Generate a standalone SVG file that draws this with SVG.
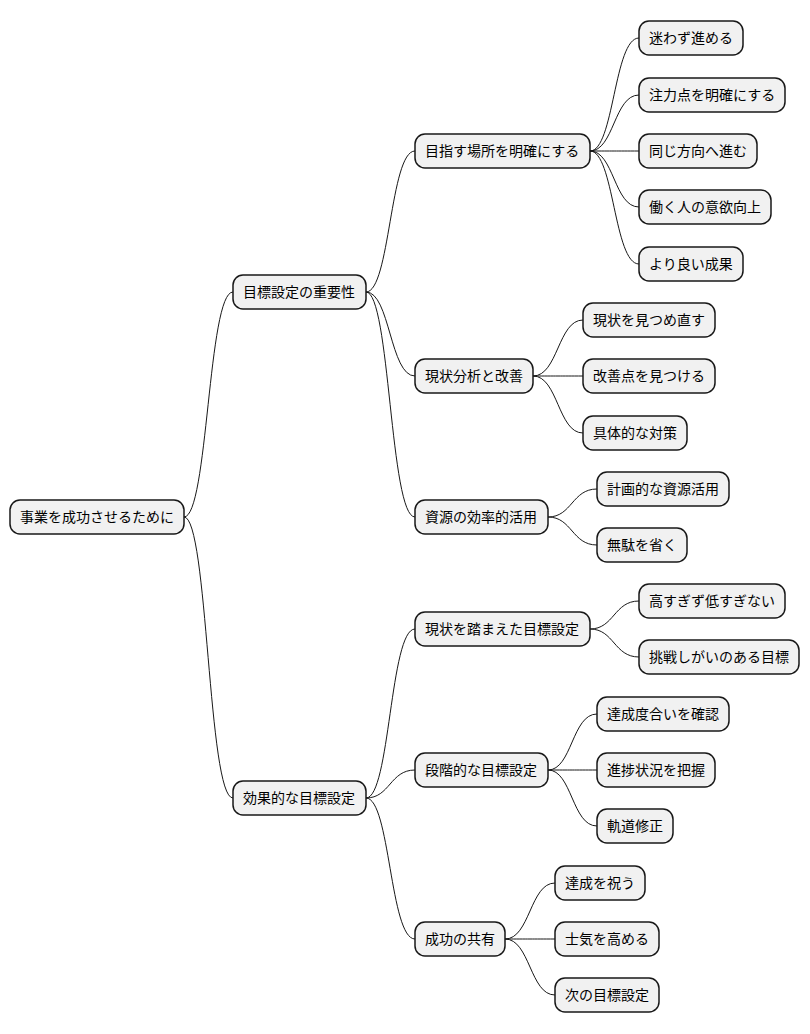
<svg xmlns="http://www.w3.org/2000/svg" width="810" height="1034" viewBox="0 0 810 1034">
<style>
.n rect{fill:#F1F1F1;stroke:#181818;stroke-width:1.5}
.n text{font-family:"Noto Sans CJK JP","Liberation Sans",sans-serif;font-size:14px;fill:#000}
#c path{fill:none;stroke:#181818;stroke-width:1}
</style>
<rect width="810" height="1034" fill="#fff"/>
<g id="c">
<path d="M184,517 C208,517 208,292 233,292"/>
<path d="M184,517 C208,517 208,798 233,798"/>
<path d="M366,292 C390,292 390,151 415,151"/>
<path d="M366,292 C390,292 390,376 415,376"/>
<path d="M366,292 C390,292 390,517 415,517"/>
<path d="M366,798 C390,798 390,629 415,629"/>
<path d="M366,798 C390,798 390,770 415,770"/>
<path d="M366,798 C390,798 390,939 415,939"/>
<path d="M590,151 C614,151 614,38 639,38"/>
<path d="M590,151 C614,151 614,95 639,95"/>
<path d="M590,151 C614,151 614,151 639,151"/>
<path d="M590,151 C614,151 614,207 639,207"/>
<path d="M590,151 C614,151 614,264 639,264"/>
<path d="M533,376 C558,376 558,320 583,320"/>
<path d="M533,376 C558,376 558,376 583,376"/>
<path d="M533,376 C558,376 558,433 583,433"/>
<path d="M548,517 C572,517 572,489 597,489"/>
<path d="M548,517 C572,517 572,545 597,545"/>
<path d="M590,629 C614,629 614,601 639,601"/>
<path d="M590,629 C614,629 614,657 639,657"/>
<path d="M548,770 C572,770 572,714 597,714"/>
<path d="M548,770 C572,770 572,770 597,770"/>
<path d="M548,770 C572,770 572,826 597,826"/>
<path d="M505,939 C530,939 530,883 555,883"/>
<path d="M505,939 C530,939 530,939 555,939"/>
<path d="M505,939 C530,939 530,995 555,995"/>
</g>
<g id="n0" class="n"><rect x="10" y="500" width="174" height="34" rx="10"/><text x="20" y="522">事業を成功させるために</text></g>
<g id="n1" class="n"><rect x="233" y="275" width="133" height="34" rx="10"/><text x="243" y="297">目標設定の重要性</text></g>
<g id="n2" class="n"><rect x="233" y="781" width="133" height="34" rx="10"/><text x="243" y="803">効果的な目標設定</text></g>
<g id="n3" class="n"><rect x="415" y="134" width="175" height="34" rx="10"/><text x="425" y="156">目指す場所を明確にする</text></g>
<g id="n4" class="n"><rect x="415" y="359" width="118" height="34" rx="10"/><text x="425" y="381">現状分析と改善</text></g>
<g id="n5" class="n"><rect x="415" y="500" width="133" height="34" rx="10"/><text x="425" y="522">資源の効率的活用</text></g>
<g id="n6" class="n"><rect x="415" y="612" width="175" height="34" rx="10"/><text x="425" y="634">現状を踏まえた目標設定</text></g>
<g id="n7" class="n"><rect x="415" y="753" width="133" height="34" rx="10"/><text x="425" y="775">段階的な目標設定</text></g>
<g id="n8" class="n"><rect x="415" y="922" width="90" height="34" rx="10"/><text x="425" y="944">成功の共有</text></g>
<g id="n9" class="n"><rect x="639" y="21" width="104" height="34" rx="10"/><text x="649" y="43">迷わず進める</text></g>
<g id="n10" class="n"><rect x="639" y="78" width="146" height="34" rx="10"/><text x="649" y="100">注力点を明確にする</text></g>
<g id="n11" class="n"><rect x="639" y="134" width="118" height="34" rx="10"/><text x="649" y="156">同じ方向へ進む</text></g>
<g id="n12" class="n"><rect x="639" y="190" width="132" height="34" rx="10"/><text x="649" y="212">働く人の意欲向上</text></g>
<g id="n13" class="n"><rect x="639" y="247" width="104" height="34" rx="10"/><text x="649" y="269">より良い成果</text></g>
<g id="n14" class="n"><rect x="583" y="303" width="132" height="34" rx="10"/><text x="593" y="325">現状を見つめ直す</text></g>
<g id="n15" class="n"><rect x="583" y="359" width="132" height="34" rx="10"/><text x="593" y="381">改善点を見つける</text></g>
<g id="n16" class="n"><rect x="583" y="416" width="104" height="34" rx="10"/><text x="593" y="438">具体的な対策</text></g>
<g id="n17" class="n"><rect x="597" y="472" width="132" height="34" rx="10"/><text x="607" y="494">計画的な資源活用</text></g>
<g id="n18" class="n"><rect x="597" y="528" width="90" height="34" rx="10"/><text x="607" y="550">無駄を省く</text></g>
<g id="n19" class="n"><rect x="639" y="584" width="146" height="34" rx="10"/><text x="649" y="606">高すぎず低すぎない</text></g>
<g id="n20" class="n"><rect x="639" y="640" width="160" height="34" rx="10"/><text x="649" y="662">挑戦しがいのある目標</text></g>
<g id="n21" class="n"><rect x="597" y="697" width="132" height="34" rx="10"/><text x="607" y="719">達成度合いを確認</text></g>
<g id="n22" class="n"><rect x="597" y="753" width="118" height="34" rx="10"/><text x="607" y="775">進捗状況を把握</text></g>
<g id="n23" class="n"><rect x="597" y="809" width="76" height="34" rx="10"/><text x="607" y="831">軌道修正</text></g>
<g id="n24" class="n"><rect x="555" y="866" width="90" height="34" rx="10"/><text x="565" y="888">達成を祝う</text></g>
<g id="n25" class="n"><rect x="555" y="922" width="104" height="34" rx="10"/><text x="565" y="944">士気を高める</text></g>
<g id="n26" class="n"><rect x="555" y="978" width="104" height="34" rx="10"/><text x="565" y="1000">次の目標設定</text></g>
</svg>
